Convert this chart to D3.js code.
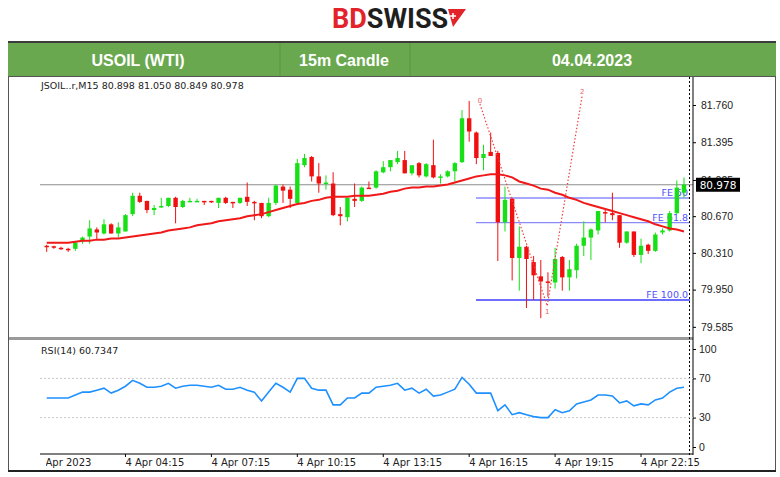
<!DOCTYPE html>
<html>
<head>
<meta charset="utf-8">
<script src="https://cdn.jsdelivr.net/npm/d3@7"></script>
<style>
  body { margin: 0; background: #fff; }
  svg { display: block; font-family: Tahoma, "DejaVu Sans", sans-serif; }
</style>
</head>
<body>
<svg id="chart" width="780" height="477"></svg>
<script>
// candles, 15 minute bars from 01:30
const opens  = [80.38,80.375,80.36,80.35,80.35,80.42,80.47,80.54,80.50,80.59,80.50,80.52,80.69,80.87,80.82,80.73,80.76,80.77,80.85,80.76,
  80.81,80.82,80.82,80.82,80.80,80.85,80.81,80.80,80.86,80.81,80.80,80.67,80.80,80.96,80.93,80.80,81.17,81.25,81.06,80.99,
  80.99,80.69,80.66,80.84,80.82,80.95,80.95,81.10,81.15,81.20,81.22,81.09,81.19,81.06,81.17,81.05,81.06,81.11,81.20,81.63,
  81.49,81.24,81.30,81.29,80.61,80.84,80.26,80.37,80.22,80.08,80.03,80.02,80.27,80.07,80.14,80.38,80.46,80.53,80.71,80.70,
  80.68,80.41,80.52,80.29,80.39,80.33,80.51,80.53,80.70,80.90];
const highs  = [80.39,80.38,80.37,80.36,80.42,80.47,80.63,80.56,80.64,80.60,80.61,80.69,80.90,80.90,80.82,80.78,80.85,80.85,80.86,80.83,
  80.85,80.84,80.82,80.82,80.85,80.86,80.81,80.85,81.00,80.82,80.80,80.85,80.98,80.98,80.96,81.23,81.28,81.26,81.19,81.07,
  81.10,80.76,80.81,80.99,80.96,81.01,81.12,81.21,81.22,81.31,81.31,81.15,81.20,81.19,81.42,81.08,81.12,81.20,81.71,81.80,
  81.50,81.37,81.49,81.31,80.96,80.85,80.57,80.38,80.28,80.24,80.12,80.36,80.28,80.24,80.40,80.62,80.55,80.72,80.73,80.90,
  80.68,80.52,80.52,80.45,80.40,80.51,80.55,80.72,81.02,81.05];
const lows   = [80.32,80.35,80.34,80.32,80.33,80.40,80.40,80.44,80.49,80.50,80.46,80.52,80.67,80.80,80.70,80.68,80.75,80.76,80.60,80.75,
  80.81,80.81,80.78,80.80,80.75,80.79,80.75,80.79,80.77,80.63,80.65,80.66,80.78,80.80,80.75,80.78,81.15,81.01,80.90,80.93,
  80.67,80.58,80.62,80.76,80.81,80.94,80.94,81.09,81.11,81.18,81.09,81.07,81.05,81.05,81.04,80.99,81.05,81.01,81.19,81.40,
  81.18,81.12,81.27,80.23,80.52,80.04,79.94,79.77,79.85,79.67,79.88,79.96,79.94,79.94,80.06,80.28,80.24,80.49,80.61,80.63,
  80.36,80.40,80.27,80.21,80.30,80.32,80.49,80.52,80.69,80.85];
const closes = [80.37,80.365,80.35,80.34,80.41,80.46,80.55,80.51,80.59,80.50,80.56,80.68,80.87,80.81,80.73,80.75,80.77,80.85,80.76,80.82,
  80.82,80.82,80.81,80.81,80.85,80.80,80.80,80.85,80.81,80.80,80.67,80.80,80.97,80.92,80.84,81.19,81.24,81.06,80.99,81.00,
  80.68,80.67,80.85,80.82,80.95,80.94,81.11,81.15,81.22,81.24,81.09,81.17,81.07,81.18,81.05,81.06,81.11,81.19,81.63,81.50,
  81.24,81.28,81.26,80.61,80.83,80.26,80.37,80.25,80.09,80.03,80.02,80.25,80.07,80.15,80.38,80.46,80.54,80.72,80.70,80.68,
  80.41,80.52,80.29,80.38,80.33,80.49,80.53,80.70,80.95,80.98];
const maLine = [80.41,80.41,80.41,80.41,80.42,80.43,80.43,80.44,80.44,80.45,80.45,80.46,80.47,80.48,80.49,80.50,80.51,80.53,80.54,80.55,
  80.56,80.58,80.59,80.60,80.62,80.63,80.64,80.65,80.67,80.68,80.69,80.71,80.73,80.75,80.77,80.79,80.80,80.82,80.83,80.85,
  80.86,80.86,80.86,80.87,80.87,80.87,80.88,80.89,80.91,80.92,80.94,80.95,80.95,80.96,80.96,80.97,80.98,81.00,81.02,81.04,
  81.06,81.07,81.08,81.08,81.07,81.05,81.01,80.99,80.97,80.94,80.93,80.90,80.88,80.85,80.83,80.80,80.78,80.76,80.74,80.72,
  80.70,80.68,80.66,80.64,80.62,80.59,80.57,80.55,80.54,80.52];
const rsi = [50,50,50,50,53,56,56,58,60,55,58,62,68,65,61,61,62,65,60,62,
  63,63,62,61,63,59,59,61,58,56,47,56,65,61,56,70,70,60,58,58,
  43,43,50,50,55,55,61,62,63,65,58,60,55,59,52,53,56,59,71,64,
  55,55,55,37,43,33,35,33,31,30,30,38,35,37,44,46,48,53,53,52,
  45,47,42,44,43,48,50,56,60,61];

const priceTicks = [81.760, 81.395, 81.025, 80.670, 80.310, 79.950, 79.585];
const rsiTicks = [100, 70, 30, 0];
const timeLabels = ["4 Apr 2023","4 Apr 04:15","4 Apr 07:15","4 Apr 10:15","4 Apr 13:15","4 Apr 16:15","4 Apr 19:15","4 Apr 22:15"];
const timeLabelIdx = [-0.8, 11, 23, 35, 47, 59, 71, 83];
const lastPrice = 80.978;
const feLevels = [50, 61.8, 100];
const feValues = [80.848, 80.606, 79.848];
const zigzagIdx = [60.5, 69.9, 74.8];
const zigzagVal = [81.77, 79.79, 81.86];
const headerCells = ["USOIL (WTI)", "15m Candle", "04.04.2023"];

const svg = d3.select("#chart");
const green = "#17e017", red = "#f01010";

// logo
const logo = svg.append("text").attr("x", 332).attr("y", 28)
  .style("font-family", "'Liberation Sans Narrow', Roboto, sans-serif")
  .style("font-size", "27px").style("font-weight", "bold");
logo.append("tspan").attr("fill", "#e2232a").text("BD");
logo.append("tspan").attr("fill", "#1e1e1e").text("SWISS");
svg.append("path").attr("d", "M448,9 L466,9 L453,27 Z").attr("fill", "#e2232a");
svg.append("path").attr("d", "M453,13 v6 M450,16 h6").attr("stroke", "#fff").attr("stroke-width", 1.5);

// header bar
svg.append("rect").attr("x", 8).attr("y", 42).attr("width", 768).attr("height", 34).attr("fill", "#6aa84f");
svg.append("rect").attr("x", 8).attr("y", 41).attr("width", 768).attr("height", 2).attr("fill", "#3b3b3b");
[280, 410].forEach(x => svg.append("line").attr("x1", x).attr("x2", x).attr("y1", 43).attr("y2", 76)
  .attr("stroke", "#5b9444"));
const cellCenters = [138, 344, 592];
headerCells.forEach((t, i) => svg.append("text").attr("x", cellCenters[i]).attr("y", 66)
  .attr("text-anchor", "middle").attr("fill", "#fff").style("font-family", "Arial, 'Liberation Sans', sans-serif")
  .style("font-size", "16px").style("font-weight", "bold").text(t));

// frame
svg.append("rect").attr("x", 8.5).attr("y", 76.5).attr("width", 767).attr("height", 394)
  .attr("fill", "none").attr("stroke", "#555");
svg.append("line").attr("x1", 8).attr("x2", 776).attr("y1", 471).attr("y2", 471).attr("stroke", "#222").attr("stroke-width", 2);

const x = d3.scaleLinear().domain([0, 89]).range([46.7, 684]);
const y = d3.scaleLinear().domain([79.505, 82.005]).range([335, 80]);
const yr = d3.scaleLinear().domain([0, 100]).range([447, 349]);
const axisX = 693;

// separator between panes
svg.append("rect").attr("x", 9).attr("y", 337).attr("width", 684).attr("height", 3).attr("fill", "#9a9a9a");

const plot = svg.append("g");
plot.append("clipPath").attr("id", "pc").append("rect").attr("x", 40).attr("y", 80).attr("width", 650).attr("height", 256);

// last price line
plot.append("line").attr("x1", 40).attr("x2", axisX).attr("y1", y(lastPrice)).attr("y2", y(lastPrice))
  .attr("stroke", "#8c8c8c").attr("stroke-width", 1.2);

// FE lines
feLevels.forEach((lv, i) => {
  plot.append("line").attr("x1", 476).attr("x2", 690).attr("y1", y(feValues[i])).attr("y2", y(feValues[i]))
    .attr("stroke", i < 2 ? "#8a8aff" : "#3c3cff").attr("stroke-width", 1.3);
  plot.append("text").attr("x", 688).attr("y", y(feValues[i]) - 2).attr("text-anchor", "end")
    .attr("fill", "#5050ff").style("font-size", "9.5px").text("FE " + (lv === 100 ? "100.0" : lv));
});

// candles
const idx = d3.range(opens.length);
const cg = plot.append("g").attr("clip-path", "url(#pc)");
cg.selectAll("line.w").data(idx).enter().append("line")
  .attr("x1", i => x(i)).attr("x2", i => x(i)).attr("y1", i => y(highs[i])).attr("y2", i => y(lows[i]))
  .attr("stroke", i => closes[i] >= opens[i] ? green : red).attr("stroke-width", 1);
cg.selectAll("rect.b").data(idx).enter().append("rect")
  .attr("x", i => x(i) - 2.2).attr("width", 4.4)
  .attr("y", i => y(Math.max(opens[i], closes[i])))
  .attr("height", i => Math.max(1.5, Math.abs(y(opens[i]) - y(closes[i]))))
  .attr("fill", i => closes[i] >= opens[i] ? green : red);

// moving average
cg.append("path").datum(maLine)
  .attr("d", d3.line().x((d, i) => x(i)).y(d => y(d)))
  .attr("fill", "none").attr("stroke", "#f01818").attr("stroke-width", 2);

// zigzag
cg.append("path").datum(zigzagIdx.map((d, i) => [d, zigzagVal[i]]))
  .attr("d", d3.line().x(d => x(d[0])).y(d => y(d[1])))
  .attr("fill", "none").attr("stroke", "#f04040").attr("stroke-width", 1.2).attr("stroke-dasharray", "1.5,2");
zigzagIdx.forEach((d, i) => cg.append("text").attr("x", x(d)).attr("y", y(zigzagVal[i]) + (i === 1 ? 8 : -1))
  .attr("text-anchor", "middle").attr("fill", "#f06060").style("font-size", "7px").text(i));

// price axis
svg.append("line").attr("x1", axisX).attr("x2", axisX).attr("y1", 77).attr("y2", 455).attr("stroke", "#000");
svg.append("line").attr("x1", 689.5).attr("x2", 689.5).attr("y1", 77).attr("y2", 455)
  .attr("stroke", "#000").attr("stroke-dasharray", "2,2");
svg.append("g").attr("transform", `translate(${axisX},0)`)
  .call(d3.axisRight(y).tickValues(priceTicks).tickFormat(d3.format(".3f")).tickSize(3))
  .call(g => g.select(".domain").remove())
  .call(g => g.selectAll("text").attr("x", 8).style("font-size", "10.5px").attr("fill", "#222"));
svg.append("rect").attr("x", 696).attr("y", y(lastPrice) - 7).attr("width", 44).attr("height", 14).attr("fill", "#000");
svg.append("text").attr("x", 718).attr("y", y(lastPrice) + 4).attr("text-anchor", "middle")
  .attr("fill", "#fff").style("font-size", "10.5px").text(lastPrice.toFixed(3));

svg.append("text").attr("x", 41).attr("y", 89).style("font-size", "9.5px").attr("fill", "#222")
  .text("JSOIL..r,M15  80.898 81.050 80.849 80.978");

// RSI pane
[70, 30].forEach(v => svg.append("line").attr("x1", 40).attr("x2", axisX).attr("y1", yr(v)).attr("y2", yr(v))
  .attr("stroke", "#c8c8c8").attr("stroke-dasharray", "2,2"));
svg.append("path").datum(rsi)
  .attr("d", d3.line().x((d, i) => x(i)).y(d => yr(d)))
  .attr("fill", "none").attr("stroke", "#1e90ff").attr("stroke-width", 1.6);
svg.append("g").attr("transform", `translate(${axisX},0)`)
  .call(d3.axisRight(yr).tickValues(rsiTicks).tickSize(3))
  .call(g => g.select(".domain").remove())
  .call(g => g.selectAll("text").attr("x", 6).style("font-size", "10.5px").attr("fill", "#222"));
svg.append("text").attr("x", 41).attr("y", 354).style("font-size", "9.5px").attr("fill", "#222").text("RSI(14) 60.7347");

// time axis
svg.append("line").attr("x1", 40).attr("x2", axisX).attr("y1", 454).attr("y2", 454).attr("stroke", "#000");
const tg = svg.append("g");
tg.append("clipPath").attr("id", "tc").append("rect").attr("x", 46).attr("y", 450).attr("width", 700).attr("height", 20);
timeLabels.forEach((t, i) => {
  const tx = x(timeLabelIdx[i]) - (i === 0 ? 5 : 0);
  if (i > 0) tg.append("line").attr("x1", x(timeLabelIdx[i])).attr("x2", x(timeLabelIdx[i])).attr("y1", 454).attr("y2", 457).attr("stroke", "#000");
  tg.append("text").attr("x", tx).attr("y", 466).attr("clip-path", "url(#tc)")
    .style("font-size", "10px").attr("fill", "#222").text(t);
});
</script>
</body>
</html>
